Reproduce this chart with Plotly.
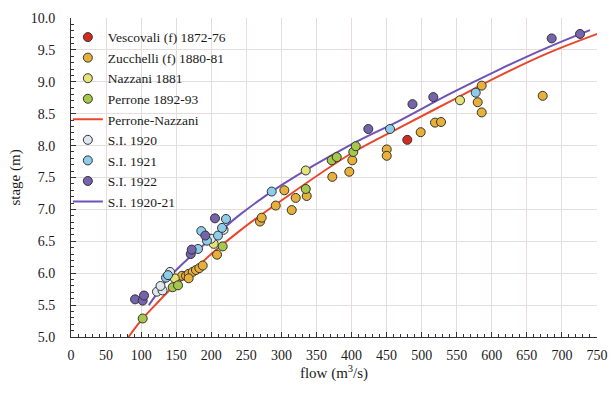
import plotly.graph_objects as go

# ---- data ----
vescovali_q = [479.5]
vescovali_h = [8.09]

zucchelli_q = [158.3, 164.0, 167.8, 173.5, 178.2, 183.0, 187.8, 167.8, 208.2, 269.5, 271.9,
               291.9, 304.2, 314.7, 320.4, 336.1, 372.6, 396.8, 401.1, 450.2, 450.2, 498.6,
               519.0, 527.6, 585.6, 579.9, 585.6, 672.6]
zucchelli_h = [5.96, 5.96, 5.99, 6.02, 6.05, 6.08, 6.12, 5.92, 6.29, 6.81, 6.87,
               7.06, 7.30, 6.99, 7.18, 7.21, 7.51, 7.59, 7.77, 7.94, 7.84, 8.21,
               8.36, 8.37, 8.94, 8.68, 8.52, 8.78]

nazzani_q = [147.9, 203.5, 334.7, 554.7]
nazzani_h = [5.92, 6.46, 7.61, 8.71]

perrone_q = [102.2, 145.0, 152.6, 216.3, 334.7, 371.7, 378.9, 402.5, 406.0]
perrone_h = [5.29, 5.78, 5.81, 6.42, 7.32, 7.77, 7.82, 7.90, 7.99]

pn_curve_q = [82, 100, 120, 145, 170, 200, 240, 300, 400, 470, 540, 610, 680, 755]
pn_curve_h = [5.00, 5.26, 5.50, 5.78, 6.00, 6.30, 6.66, 7.14, 7.88, 8.29, 8.69, 9.09, 9.45, 9.77]

si1920_q = [122.6, 130.5, 127.6, 141.2, 199.6, 217.5]
si1920_h = [5.71, 5.73, 5.80, 6.02, 6.54, 6.68]

si1921_q = [135.5, 138.3, 181.1, 185.8, 193.9, 209.6, 215.3, 221.0, 286.2, 454.9, 577.1]
si1921_h = [5.93, 5.97, 6.38, 6.66, 6.51, 6.59, 6.71, 6.85, 7.28, 8.26, 8.83]

si1922_q = [91.3, 102.2, 104.1, 170.7, 172.1, 191.5, 205.3, 423.9, 486.9, 516.6, 685.4, 725.8]
si1922_h = [5.59, 5.57, 5.65, 6.30, 6.37, 6.59, 6.86, 8.26, 8.65, 8.76, 9.68, 9.75]

si_curve_q = [111, 125, 135, 150, 168, 192, 215, 240, 300, 400, 470, 540, 612, 680, 740]
si_curve_h = [5.50, 5.72, 5.87, 6.05, 6.24, 6.47, 6.68, 6.91, 7.38, 8.02, 8.40, 8.81, 9.20, 9.54, 9.81]

x_ticks = list(range(0, 751, 50))
y_ticks = [5.0, 5.5, 6.0, 6.5, 7.0, 7.5, 8.0, 8.5, 9.0, 9.5, 10.0]

FONT = "Liberation Serif, Times New Roman, serif"
OUT = "#333333"
TXT = "#1a1a1a"

fig = go.Figure()

# lines first (drawn under the points); legend order set with legendrank
fig.add_trace(go.Scatter(x=pn_curve_q, y=pn_curve_h, mode="lines", name="Perrone-Nazzani",
                         line=dict(color="#e9472b", width=2, shape="spline"), legendrank=5))
fig.add_trace(go.Scatter(x=si_curve_q, y=si_curve_h, mode="lines", name="S.I. 1920-21",
                         line=dict(color="#6f52b5", width=2, shape="spline"), legendrank=9))

def pts(q, h, name, color, rank):
    fig.add_trace(go.Scatter(x=q, y=h, mode="markers", name=name, legendrank=rank,
                             marker=dict(size=9, color=color, line=dict(color=OUT, width=1))))

pts(vescovali_q, vescovali_h, "Vescovali (f) 1872-76", "#d42a1e", 1)
pts(zucchelli_q, zucchelli_h, "Zucchelli (f) 1880-81", "#e8b038", 2)
pts(nazzani_q, nazzani_h, "Nazzani 1881", "#e6e27a", 3)
pts(perrone_q, perrone_h, "Perrone 1892-93", "#a5c84a", 4)
pts(si1920_q, si1920_h, "S.I. 1920", "#dfe7ef", 6)
pts(si1921_q, si1921_h, "S.I. 1921", "#8ecdea", 7)
pts(si1922_q, si1922_h, "S.I. 1922", "#7563ad", 8)

grid = "#e6dcdc"
fig.update_layout(
    width=613, height=393,
    margin=dict(l=71, r=16, t=18, b=56),
    paper_bgcolor="white", plot_bgcolor="white",
    font=dict(family=FONT, size=14, color=TXT),
    showlegend=True,
    legend=dict(x=-0.006, y=0.988, xanchor="left", yanchor="top",
                bgcolor="rgba(0,0,0,0)", font=dict(family=FONT, size=13.5, color=TXT),
                tracegroupgap=0, itemwidth=30),
    xaxis=dict(range=[0, 750], tickvals=x_ticks, ticktext=[str(v) for v in x_ticks],
               showgrid=True, gridcolor=grid, gridwidth=1, zeroline=False,
               showline=True, linecolor=OUT, linewidth=1,
               ticks="inside", ticklen=5, tickcolor=OUT, automargin=False,
               minor=dict(dtick=10, ticks="inside", ticklen=3, tickcolor=OUT, showgrid=False),
               ticklabelstandoff=5, tickfont=dict(size=14),
               title=dict(text="flow (m<sup>3</sup>/s)", standoff=4, font=dict(size=15))),
    yaxis=dict(range=[5, 10], tickvals=y_ticks, ticktext=[f"{v:.1f}" for v in y_ticks],
               showgrid=True, gridcolor=grid, gridwidth=1, zeroline=False,
               showline=True, linecolor=OUT, linewidth=1,
               ticks="inside", ticklen=5, tickcolor=OUT, automargin=False,
               minor=dict(dtick=0.1, ticks="inside", ticklen=3, tickcolor=OUT, showgrid=False),
               ticklabelstandoff=12, tickfont=dict(size=14),
               title=dict(text="stage (m)", standoff=6, font=dict(size=15))),
)

fig.write_html("out.html")
